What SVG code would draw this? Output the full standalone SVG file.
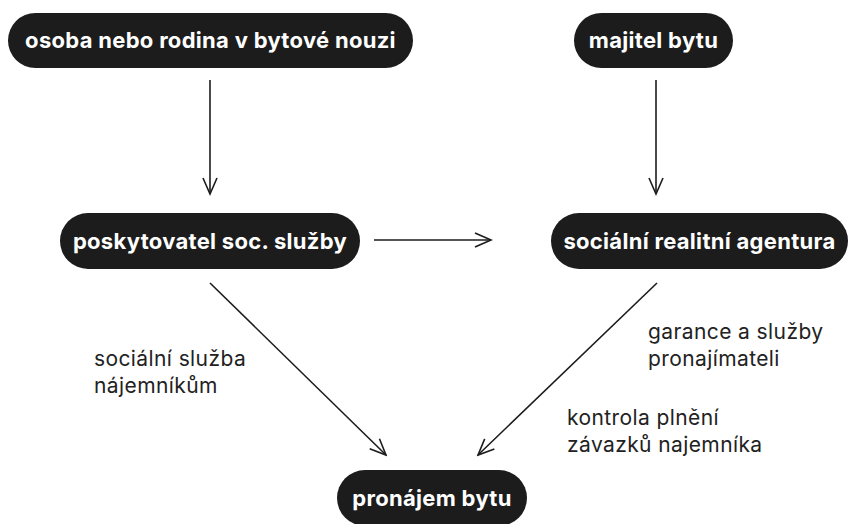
<svg xmlns="http://www.w3.org/2000/svg" width="852" height="524" viewBox="0 0 852 524">
<defs>
<style>
.node rect{fill:#1c1c1c}
.node text{fill:#ffffff;font-family:Inter,"Noto Sans",sans-serif;font-weight:700;font-size:22px;letter-spacing:0.3px;text-anchor:middle}
.edge{stroke:#1c1c1c;stroke-width:1.6;fill:none}
.lbl{fill:#222;font-family:Inter,"Noto Sans",sans-serif;font-size:21px;letter-spacing:0.4px}
</style>
<marker id="arr" viewBox="0 0 20 20" refX="18" refY="10" markerWidth="20" markerHeight="20" markerUnits="userSpaceOnUse" orient="auto">
<path d="M2,3 L18,10 L2,17" fill="none" stroke="#1c1c1c" stroke-width="1.6"/>
</marker>
</defs>
<rect width="852" height="524" fill="#ffffff"/>
<g id="connectors">
<line class="edge" x1="210" y1="80" x2="210" y2="194" marker-end="url(#arr)"/>
<line class="edge" x1="656" y1="80" x2="656" y2="194" marker-end="url(#arr)"/>
<line class="edge" x1="374" y1="240" x2="491" y2="240" marker-end="url(#arr)"/>
<line class="edge" x1="210" y1="283" x2="386" y2="455" marker-end="url(#arr)"/>
<line class="edge" x1="657" y1="283" x2="478" y2="455" marker-end="url(#arr)"/>
</g>
<g id="n1" class="node"><rect x="8" y="13" width="405" height="55" rx="27.5"/><text x="210.5" y="48">osoba nebo rodina v bytové nouzi</text></g>
<g id="n2" class="node"><rect x="574" y="13" width="159" height="55" rx="27.5"/><text x="653.5" y="48">majitel bytu</text></g>
<g id="n3" class="node"><rect x="60" y="213" width="300" height="56" rx="28"/><text x="210" y="248.5">poskytovatel soc. služby</text></g>
<g id="n4" class="node"><rect x="551" y="213" width="297" height="56" rx="28"/><text x="699.5" y="248.5">sociální realitní agentura</text></g>
<g id="n5" class="node"><rect x="337" y="470" width="190" height="56" rx="28"/><text x="432" y="505.5">pronájem bytu</text></g>
<g id="labels">
<text class="lbl" x="94" y="366">sociální služba</text>
<text class="lbl" x="94" y="393">nájemníkům</text>
<text class="lbl" x="648" y="339">garance a služby</text>
<text class="lbl" x="648" y="366">pronajímateli</text>
<text class="lbl" x="567" y="425">kontrola plnění</text>
<text class="lbl" x="567" y="452">závazků najemníka</text>
</g>
</svg>
